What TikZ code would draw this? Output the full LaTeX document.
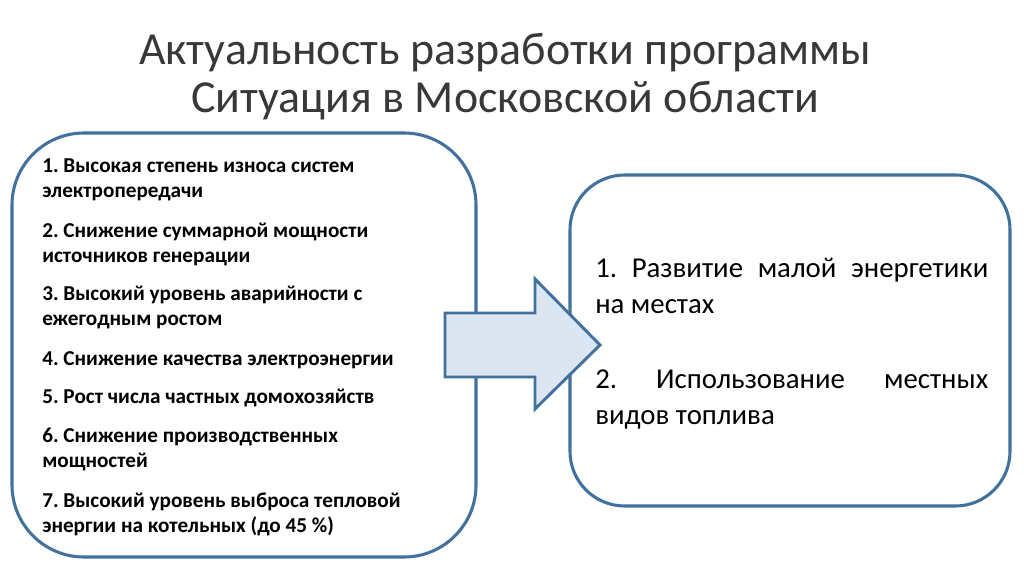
\documentclass[tikz,border=0pt]{standalone}
\usepackage{fontspec}
\setmainfont{Carlito}
\definecolor{bordc}{HTML}{41719C}
\definecolor{arrfill}{HTML}{DCE6F2}
\tikzset{
  panel/.style={draw=bordc, line width=2.3pt, fill=white},
  leftitem/.style={anchor=base west, inner sep=0pt,
    font=\fontsize{15.9pt}{18.75pt}\selectfont\bfseries},
  rightitem/.style={anchor=base west, inner sep=0pt,
    font=\fontsize{21.6pt}{27pt}\selectfont},
  titletext/.style={anchor=base, inner sep=0pt,
    font=\fontsize{34.4pt}{36pt}\selectfont, text=black!78},
  bigarrow/.style={draw=bordc, line width=2.2pt, fill=arrfill, line join=miter}
}
\newcommand{\leftpar}[1]{\parbox[t]{330pt}{\raggedright\frenchspacing #1}}
\newcommand{\rightpar}[1]{\parbox[t]{294.75pt}{\frenchspacing #1}}
\begin{document}
\begin{tikzpicture}[x=0.75pt, y=-0.75pt]
\useasboundingbox (0,0) rectangle (1024,574);
% title
\node[titletext] (title) at (505,65) {\parbox[t]{740pt}{\centering Актуальность разработки программы\\Ситуация в Московской области}};
% boxes
\draw[panel, rounded corners=54pt] (12,133) rectangle (476,557);
\node[inner sep=0pt] (lbox) at (244,345) {};
\draw[panel, rounded corners=41pt] (570,175) rectangle (1010,506);
\node[inner sep=0pt] (rbox) at (790,340) {};
% left items
\node[leftitem] (i1) at (42,173) {\leftpar{1. Высокая степень износа систем\\электропередачи}};
\node[leftitem] (i2) at (42,237) {\leftpar{2. Снижение суммарной мощности\\источников генерации}};
\node[leftitem] (i3) at (42,300) {\leftpar{3. Высокий уровень аварийности с\\ежегодным ростом}};
\node[leftitem] (i4) at (42,365) {\leftpar{4. Снижение качества электроэнергии}};
\node[leftitem] (i5) at (42,403) {\leftpar{5. Рост числа частных домохозяйств}};
\node[leftitem] (i6) at (42,442) {\leftpar{6. Снижение производственных\\мощностей}};
\node[leftitem] (i7) at (42,507) {\leftpar{7. Высокий уровень выброса тепловой\\энергии на котельных (до 45 \%)}};
% right items
\node[rightitem] (r1) at (595,277) {\rightpar{1. Развитие малой энергетики\linebreak на местах}};
\node[rightitem] (r2) at (595,388) {\rightpar{2. Использование местных\linebreak видов топлива}};
% arrow
\draw[bigarrow] (445,313) -- (535,313) -- (535,279) -- (600,345) -- (535,409) -- (535,377) -- (445,377) -- cycle;
\end{tikzpicture}
\end{document}
